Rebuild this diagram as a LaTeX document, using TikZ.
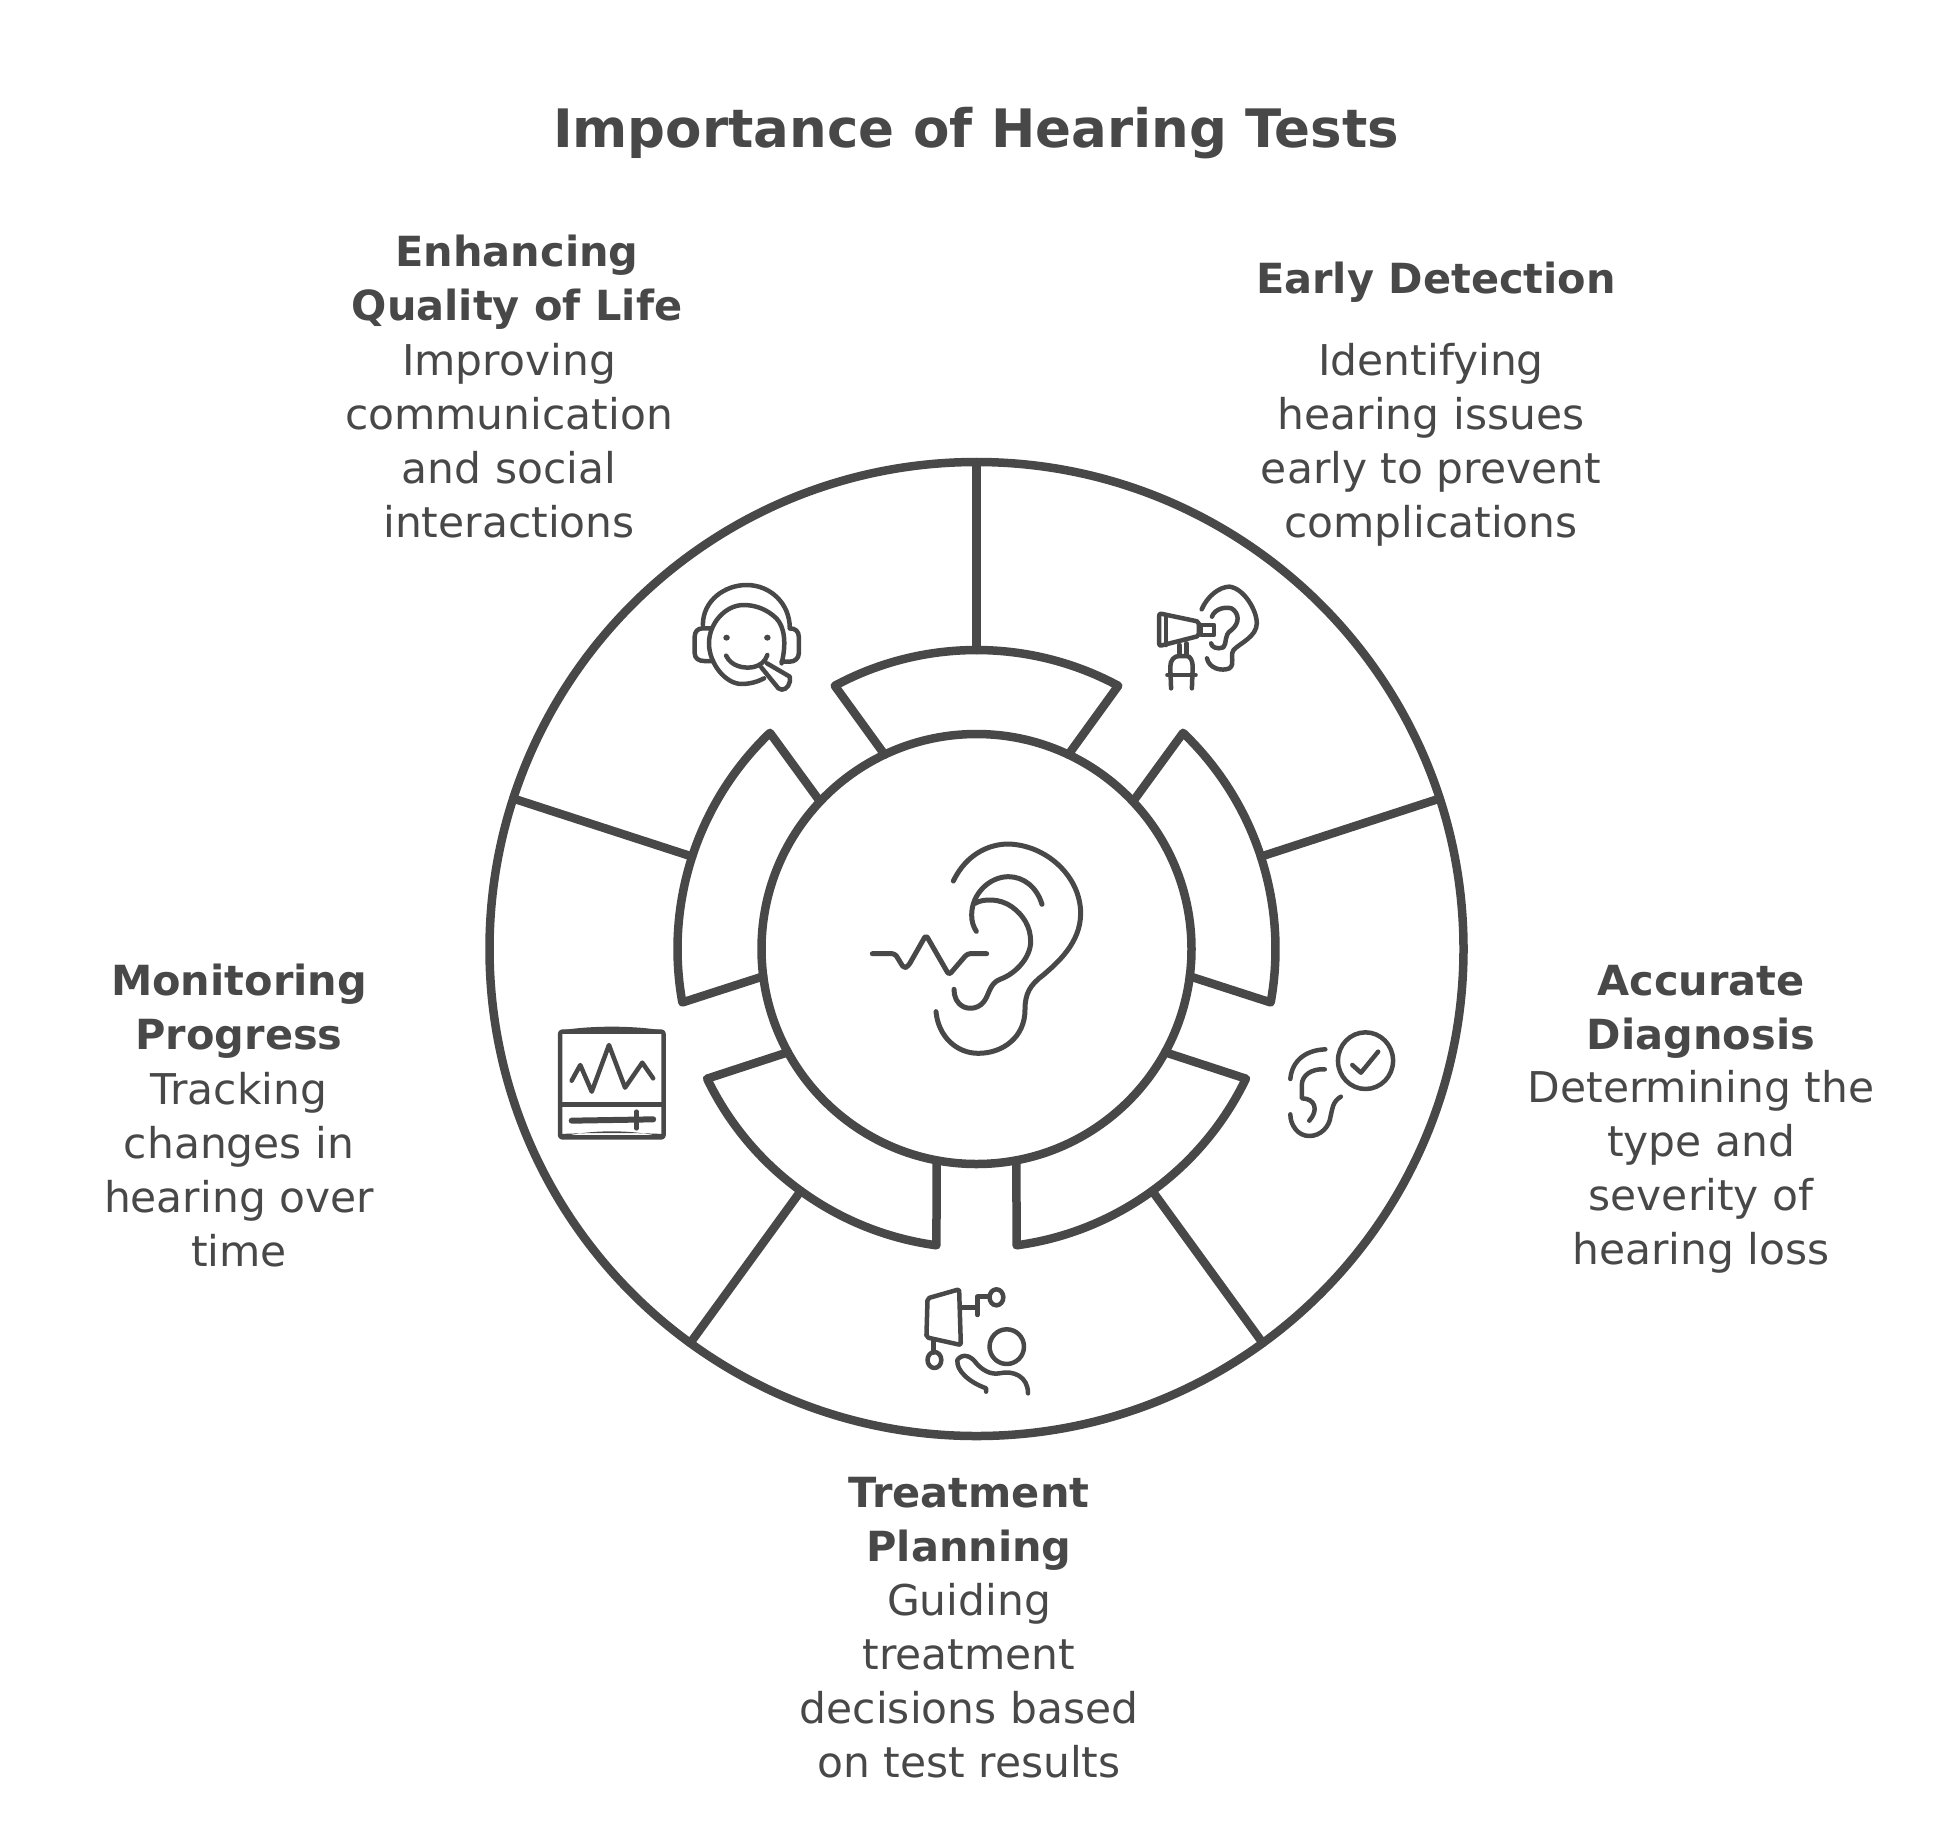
\documentclass[tikz,border=0pt]{standalone}
\usepackage{fontspec}
\setmainfont{DejaVu Sans}
\definecolor{ink}{HTML}{484848}
\tikzset{
  wheel/.style={draw=ink,line width=8.5pt,line join=round,line cap=round},
  round/.style={draw=ink,circle,inner sep=0pt,outer sep=0pt,line width=8.5pt},
  iconline/.style={draw=ink,line width=4.5pt,line cap=round,line join=round},
  bigicon/.style={draw=ink,line width=5pt,line cap=round,line join=round},
  headtxt/.style={text=ink,align=center,inner sep=0pt,font=\fontsize{41.5}{54}\selectfont\bfseries},
  bodytxt/.style={text=ink,align=center,inner sep=0pt,font=\fontsize{42.4}{54}\selectfont},
  titletxt/.style={text=ink,align=center,inner sep=0pt,font=\fontsize{53}{54}\selectfont\bfseries},
}
\begin{document}
\begin{tikzpicture}[x=1pt,y=-1pt]
\useasboundingbox (0,0) rectangle (1953,1845);
\node[titletxt] (title) at (976,133) {Importance of Hearing Tests};

\node[round,minimum size=974pt] (outer) at (976.5,949) {};
\node[round,minimum size=430pt] (hub) at (976.5,949) {};
\begin{scope}[shift={(976.5,949)},y=1pt]
  \foreach \a in {90,18,-54,-126,162}{
    \draw[wheel] (\a+25.3:215) -- (\a+28.3:299)
      arc[start angle=\a+28.3,end angle=\a-28.3,radius=299] -- (\a-25.3:215);
    \coordinate (ring\a) at (\a:299);
    \draw[wheel] (ring\a) -- (outer.\a);
  }
\end{scope}

% central ear
\begin{scope}[shift={(840,820)},x=.3333pt,y=-.3333pt]
  \draw[bigicon] (340,183) .. controls (380,100) and (450,72) .. (505,72) .. controls (620,75) and (722,170) .. (722,280) .. controls (722,370) and (650,430) .. (610,465) .. controls (570,495) and (555,520) .. (555,570) .. controls (555,650) and (490,700) .. (415,700) .. controls (350,700) and (295,650) .. (288,575);
  \draw[bigicon] (606,253) .. controls (590,200) and (550,170) .. (505,170) .. controls (450,170) and (395,220) .. (395,285) .. controls (395,305) and (400,320) .. (409,334);
  \draw[bigicon] (405,250) .. controls (430,235) and (480,235) .. (515,260) .. controls (550,285) and (572,320) .. (572,365) .. controls (572,410) and (530,460) .. (480,478) .. controls (450,490) and (448,520) .. (435,540) .. controls (420,565) and (390,570) .. (370,560) .. controls (350,550) and (342,530) .. (342,508);
  \draw[bigicon,rounded corners=3pt] (97,401) -- (165,401) -- (192,445) -- (205,438) -- (258,345) -- (327,465) -- (382,401) -- (440,401);
\end{scope}

% headset and ear with scope
\begin{scope}[shift={(660,560)},x=.4082pt,y=-.3333pt]
  \draw[iconline] (105,195) .. controls (105,120) and (160,75) .. (212,75) .. controls (270,75) and (318,130) .. (318,205);
  \draw[iconline] (298,310) .. controls (310,250) and (305,200) .. (285,175) .. controls (260,145) and (230,135) .. (205,135) .. controls (160,135) and (120,190) .. (120,250) .. controls (120,310) and (160,372) .. (200,372) .. controls (220,372) and (240,365) .. (255,355);
  \draw[iconline] (125,205) -- (105,205) .. controls (92,205) and (85,215) .. (85,230) -- (85,280) .. controls (85,295) and (95,303) .. (108,303) -- (130,303);
  \draw[iconline] (318,205) .. controls (332,205) and (340,215) .. (340,230) -- (340,280) .. controls (340,295) and (330,305) .. (318,305) -- (298,305);
  \fill[ink] (163,233) circle[x radius=8,y radius=9];
  \fill[ink] (263,233) circle[x radius=8,y radius=9];
  \draw[iconline] (162,287) .. controls (175,320) and (205,325) .. (225,322) .. controls (245,318) and (258,305) .. (263,285);
  \draw[iconline] (248,322) -- (290,385) .. controls (300,395) and (315,385) .. (318,365) -- (318,350) -- (262,310);

  \draw[iconline] (1327,148) .. controls (1340,110) and (1370,80) .. (1395,80) .. controls (1430,85) and (1462,150) .. (1462,190) .. controls (1462,230) and (1420,250) .. (1405,270) .. controls (1395,290) and (1410,310) .. (1395,325) .. controls (1375,335) and (1345,325) .. (1340,295);
  \draw[iconline] (1352,170) .. controls (1360,145) and (1385,140) .. (1400,145) .. controls (1420,160) and (1420,190) .. (1400,210) .. controls (1380,225) and (1390,250) .. (1380,262) .. controls (1365,270) and (1350,260) .. (1350,250);
  \draw[iconline,rounded corners=2pt] (1223,160) -- (1320,185) -- (1320,228) -- (1223,258) -- cycle;
  \draw[iconline] (1240,165) -- (1240,255);
  \draw[iconline] (1325,195) rectangle (1357,225);
  \draw[iconline] (1272,255) -- (1272,285);
  \draw[iconline] (1290,250) -- (1290,285);
  \draw[iconline] (1252,385) -- (1250,320) .. controls (1250,300) and (1260,288) .. (1272,288) -- (1290,288) .. controls (1300,288) and (1305,305) .. (1305,320) -- (1303,385);
  \draw[iconline] (1243,345) -- (1312,345);
\end{scope}

% monitor, treatment, ear with tick
\begin{scope}[shift={(520,1010)},x=.574pt,y=-.3333pt]
  \draw[iconline,rounded corners=2pt] (70,65) rectangle (250,382);
  \fill[ink] (70,62) .. controls (120,46) and (200,46) .. (250,62) -- (250,72) .. controls (200,60) and (120,60) .. (70,72) -- cycle;
  \fill[ink] (70,382) .. controls (120,358) and (200,358) .. (250,382) -- (250,372) .. controls (200,368) and (120,368) .. (70,372) -- cycle;
  \draw[iconline] (72,283) -- (250,283);
  \draw[iconline,line width=6pt] (90,332) -- (232,328);
  \draw[iconline] (203,305) -- (203,355);
  \draw[iconline] (90,212) -- (105,165) -- (125,245) -- (155,105) -- (183,233) -- (213,158) -- (232,205);

  \draw[iconline] (1473,152) circle[x radius=48,y radius=85];
  \draw[iconline] (1450,165) -- (1465,188) -- (1495,125);
  \draw[iconline] (1403,118) .. controls (1370,120) and (1345,150) .. (1342,207);
  \draw[iconline] (1402,178) .. controls (1380,175) and (1362,195) .. (1362,225) -- (1362,265) .. controls (1385,265) and (1392,300) .. (1375,332);
  \draw[iconline] (1430,260) .. controls (1415,275) and (1415,300) .. (1412,320) .. controls (1410,350) and (1395,378) .. (1375,378) .. controls (1355,378) and (1342,345) .. (1342,313);

  \draw[iconline,rounded corners=2pt] (710,865) -- (765,838) -- (768,1005) -- (708,982) -- cycle;
  \draw[iconline] (770,893) -- (797,893);
  \draw[iconline] (797,860) -- (797,915);
  \draw[iconline] (797,860) -- (817,860);
  \draw[iconline] (830,862) circle[x radius=12,y radius=24];
  \draw[iconline] (720,990) -- (720,1028);
  \draw[iconline] (722,1050) circle[x radius=12,y radius=24];
  \draw[iconline] (848,1010) circle[x radius=30,y radius=52];
  \draw[iconline] (812,1145) -- (812,1135) .. controls (780,1115) and (760,1080) .. (762,1050) .. controls (770,1030) and (785,1035) .. (795,1060) .. controls (805,1080) and (820,1095) .. (835,1090) .. controls (860,1080) and (885,1100) .. (885,1150);
\end{scope}

\node[headtxt] (h1) at (517,282) {Enhancing\\Quality of Life};
\node[bodytxt] (b1) at (509,441) {Improving\\communication\\and social\\interactions};
\node[headtxt] (h2) at (1436,282) {Early Detection};
\node[bodytxt] (b2) at (1431,445) {Identifying\\hearing issues\\early to prevent\\complications};
\node[headtxt] (h3) at (1701,1012) {Accurate\\Diagnosis};
\node[bodytxt] (b3) at (1701,1172) {Determining the\\type and\\severity of\\hearing loss};
\node[headtxt] (h4) at (239,1011) {Monitoring\\Progress};
\node[bodytxt] (b4) at (239,1169.5) {Tracking\\changes in\\hearing over\\time};
\node[headtxt] (h5) at (969,1523.5) {Treatment\\Planning};
\node[bodytxt] (b5) at (969,1681) {Guiding\\treatment\\decisions based\\on test results};
\end{tikzpicture}
\end{document}
